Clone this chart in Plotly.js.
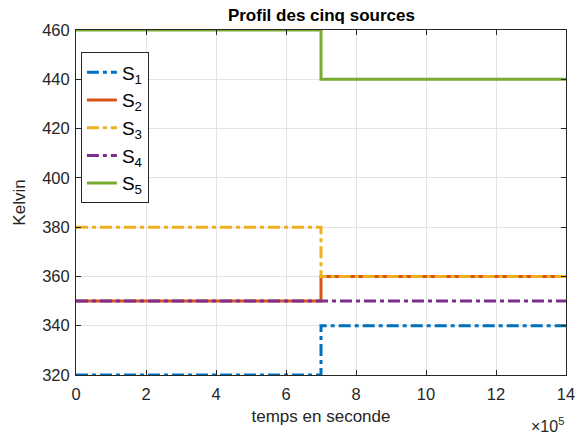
<!DOCTYPE html>
<html><head><meta charset="utf-8">
<script src="https://cdn.plot.ly/plotly-3.0.1.min.js"></script>
<style>html,body{margin:0;padding:0;background:#fff}</style>
</head><body>
<div id="chart" style="width:576px;height:439px"></div>
<script>
const timeSec = [0, 700000, 1400000];
const seriesNames = ['S<sub>1</sub>','S<sub>2</sub>','S<sub>3</sub>','S<sub>4</sub>','S<sub>5</sub>'];
const s1 = [320, 340, 340];
const s2 = [350, 360, 360];
const s3 = [380, 360, 360];
const s4 = [350, 350, 350];
const s5 = [460, 440, 440];
const xTickVals = [0, 200000, 400000, 600000, 800000, 1000000, 1200000, 1400000];
const xTickText = ['0','2','4','6','8','10','12','14'];
const yTickVals = [320, 340, 360, 380, 400, 420, 440, 460];

const colors = ['#0072BD','#D95319','#EDB120','#7E2F8E','#77AC30'];
const dashes = ['dashdot','solid','dashdot','dashdot','solid'];
const allY = [s1, s2, s3, s4, s5];

const FONT = 'Liberation Sans, Arial, sans-serif';

const traces = allY.map((y, i) => ({
  x: timeSec, y: y, name: seriesNames[i], type: 'scatter', mode: 'lines',
  line: {shape: 'hv', color: colors[i], width: 3, dash: dashes[i] === 'dashdot' ? '12px,4px,4px,4px' : 'solid'}
}));

const axisCommon = {
  showline: true, linecolor: '#262626', linewidth: 1, mirror: 'ticks',
  ticks: 'inside', ticklen: 5, tickcolor: '#262626',
  showgrid: true, gridcolor: '#e3e3e3', gridwidth: 1, zeroline: false,
  tickfont: {family: FONT, size: 16.5, color: '#262626'}
};

const layout = {
  width: 576, height: 439,
  margin: {l: 76, r: 10, t: 30, b: 64},
  paper_bgcolor: '#fff', plot_bgcolor: '#fff',
  title: {text: '<b>Profil des cinq sources</b>', x: 0.558, xanchor: 'center', y: 0.966, yanchor: 'middle',
    font: {family: FONT, size: 17, color: '#000'}},
  xaxis: Object.assign({}, axisCommon, {
    range: [0, 1400000], tickvals: xTickVals, ticktext: xTickText, ticklabelstandoff: 4,
    title: {text: 'temps en seconde', standoff: 8, font: {family: FONT, size: 17, color: '#262626'}}
  }),
  yaxis: Object.assign({}, axisCommon, {
    range: [320, 460], tickvals: yTickVals, ticklabelstandoff: 2,
    title: {text: 'Kelvin', standoff: 12, font: {family: FONT, size: 17, color: '#262626'}}
  }),
  legend: {
    x: 0.01, y: 0.935, xanchor: 'left', yanchor: 'top',
    bgcolor: '#fff', bordercolor: '#262626', borderwidth: 1,
    font: {family: FONT, size: 19, color: '#000'},
    tracegroupgap: 0
  },
  annotations: [{
    xref: 'paper', yref: 'paper', x: 1.0, y: -0.145, xanchor: 'right', yanchor: 'middle',
    text: '×10<sup>5</sup>', showarrow: false,
    font: {family: FONT, size: 16, color: '#262626'}
  }],
  showlegend: true
};

Plotly.newPlot('chart', traces, layout, {displayModeBar: false, staticPlot: true});
</script>
</body></html>
